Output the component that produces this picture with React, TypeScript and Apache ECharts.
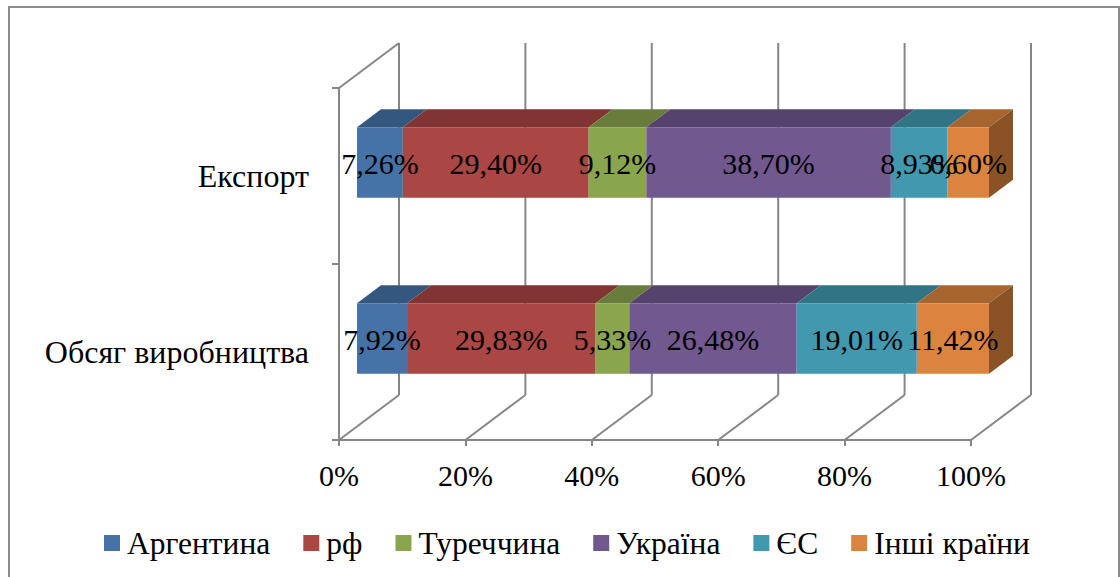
import React, { useEffect, useRef } from "react";
import * as echarts from "echarts";

const categories = ["Обсяг виробництва", "Експорт"];
const countries = ["Аргентина", "рф", "Туреччина", "Україна", "ЄС", "Інші країни"];
const production = [7.92, 29.83, 5.33, 26.48, 19.01, 11.42];
const exportShare = [7.26, 29.4, 9.12, 38.7, 8.93, 6.6];
const xTicks = [0, 20, 40, 60, 80, 100];

const frontColors = ["#4572A7", "#AA4643", "#89A54E", "#71588F", "#4198AF", "#DB843D"];
const topColors = ["#34577F", "#813533", "#687D3B", "#56436D", "#317485", "#A6642E"];
const sideColor = "#8A5326";

const FONT = "Liberation Serif, Times New Roman, serif";
const GRID_COLOR = "#868686";
const DEPTH_X = 60;
const DEPTH_Y = -45;
const BAR_FRONT = 0.3;
const BAR_BACK = 0.7;

const seriesByCategory = [production, exportShare];

function buildSegments() {
  const segs: number[][][] = countries.map(() => []);
  seriesByCategory.forEach((vals, ci) => {
    const total = vals.reduce((a, b) => a + b, 0);
    let acc = 0;
    vals.forEach((v, si) => {
      const s = (acc / total) * 100;
      acc += v;
      const e = (acc / total) * 100;
      segs[si].push([s, e, ci, v]);
    });
  });
  return segs;
}

export default function App() {
  const ref = useRef<HTMLDivElement>(null);

  useEffect(() => {
    if (!ref.current) return;
    const chart = echarts.init(ref.current, undefined, { renderer: "svg" });
    const segments = buildSegments();

    const barSeries = countries.map((name, si) => ({
      name,
      type: "custom",
      z: 2,
      itemStyle: { color: frontColors[si] },
      encode: { x: [0, 1], y: 2 },
      data: segments[si],
      renderItem: (params: any, api: any) => {
        const s = api.value(0);
        const e = api.value(1);
        const ci = api.value(2);
        const p0 = api.coord([s, ci]);
        const p1 = api.coord([e, ci]);
        const band = api.size([0, 1])[1];
        const h = band * 0.4;
        const fx = DEPTH_X * BAR_FRONT;
        const fy = DEPTH_Y * BAR_FRONT;
        const dx = DEPTH_X * (BAR_BACK - BAR_FRONT);
        const dy = DEPTH_Y * (BAR_BACK - BAR_FRONT);
        const x0 = p0[0] + fx;
        const x1 = p1[0] + fx;
        const yc = p0[1] + fy;
        const yt = yc - h / 2;
        const yb = yc + h / 2;
        const children: any[] = [
          {
            type: "polygon",
            shape: { points: [[x0, yt], [x1, yt], [x1 + dx, yt + dy], [x0 + dx, yt + dy]] },
            style: { fill: topColors[si] },
          },
          {
            type: "rect",
            shape: { x: x0, y: yt, width: x1 - x0, height: h },
            style: { fill: frontColors[si] },
          },
        ];
        if (si === countries.length - 1) {
          children.push({
            type: "polygon",
            shape: { points: [[x1, yt], [x1 + dx, yt + dy], [x1 + dx, yb + dy], [x1, yb]] },
            style: { fill: sideColor },
          });
        }
        return { type: "group", children };
      },
    }));

    const labelRows: number[][] = [];
    segments.forEach((rows) => rows.forEach((r) => labelRows.push(r)));

    const labelSeries = {
      name: "labels",
      type: "custom",
      z: 5,
      silent: true,
      encode: { x: [0, 1], y: 2 },
      data: labelRows,
      renderItem: (params: any, api: any) => {
        const s = api.value(0);
        const e = api.value(1);
        const ci = api.value(2);
        const v = api.value(3);
        const p0 = api.coord([s, ci]);
        const p1 = api.coord([e, ci]);
        const fx = DEPTH_X * BAR_FRONT;
        const fy = DEPTH_Y * BAR_FRONT;
        return {
          type: "text",
          style: {
            x: (p0[0] + p1[0]) / 2 + fx,
            y: p0[1] + fy + 1,
            text: v.toFixed(2).replace(".", ",") + "%",
            fill: "#000",
            fontFamily: FONT,
            fontSize: 30,
            align: "center",
            verticalAlign: "middle",
          },
        };
      },
    };

    const gridSeries = {
      name: "grid3d",
      type: "custom",
      z: 1,
      silent: true,
      encode: { x: 0 },
      data: xTicks.map((t) => [t]),
      renderItem: (params: any, api: any) => {
        const cs = params.coordSys;
        const v = api.value(0);
        const x = api.coord([v, 0])[0];
        const bottom = cs.y + cs.height;
        const top = cs.y;
        const style = { stroke: GRID_COLOR, lineWidth: 2 };
        const children: any[] = [
          { type: "line", shape: { x1: x, y1: bottom, x2: x + DEPTH_X, y2: bottom + DEPTH_Y }, style },
          { type: "line", shape: { x1: x + DEPTH_X, y1: bottom + DEPTH_Y, x2: x + DEPTH_X, y2: top + DEPTH_Y }, style },
        ];
        if (v === xTicks[0]) {
          children.push({
            type: "line",
            shape: { x1: cs.x, y1: top, x2: cs.x + DEPTH_X, y2: top + DEPTH_Y },
            style,
          });
        }
        return { type: "group", children };
      },
    };

    chart.setOption({
      animation: false,
      backgroundColor: "#fff",
      graphic: [
        {
          type: "rect",
          shape: { x: 9, y: 7, width: 1110, height: 600 },
          style: { fill: "none", stroke: "#8c8c8c", lineWidth: 2 },
          silent: true,
          z: 0,
        },
      ],
      grid: { left: 339, top: 88, width: 632, height: 352, containLabel: false },
      xAxis: {
        type: "value",
        min: 0,
        max: 100,
        interval: 20,
        axisLine: { show: true, lineStyle: { color: GRID_COLOR, width: 2 } },
        axisTick: { show: true, length: 6, lineStyle: { color: GRID_COLOR, width: 2 } },
        splitLine: { show: false },
        axisLabel: {
          formatter: "{value}%",
          color: "#000",
          fontFamily: FONT,
          fontSize: 30,
          margin: 20,
        },
      },
      yAxis: {
        type: "category",
        data: categories,
        axisLine: { show: true, lineStyle: { color: GRID_COLOR, width: 2 } },
        axisTick: { show: true, length: 7, lineStyle: { color: GRID_COLOR, width: 2 } },
        axisLabel: {
          color: "#000",
          fontFamily: FONT,
          fontSize: 32,
          margin: 30,
          padding: [12, 0, 0, 0],
        },
        splitLine: { show: false },
      },
      legend: {
        data: countries,
        left: 104,
        top: 527,
        padding: 0,
        icon: "rect",
        itemWidth: 16,
        itemHeight: 16,
        itemGap: 33,
        textStyle: { color: "#000", fontFamily: FONT, fontSize: 31.5, padding: [0, 0, 0, 2] },
      },
      series: [gridSeries, ...barSeries, labelSeries],
    });

    return () => chart.dispose();
  }, []);

  return (
    <div
      ref={ref}
      style={{ position: "absolute", left: 0, top: 0, width: 1120, height: 577 }}
    />
  );
}
